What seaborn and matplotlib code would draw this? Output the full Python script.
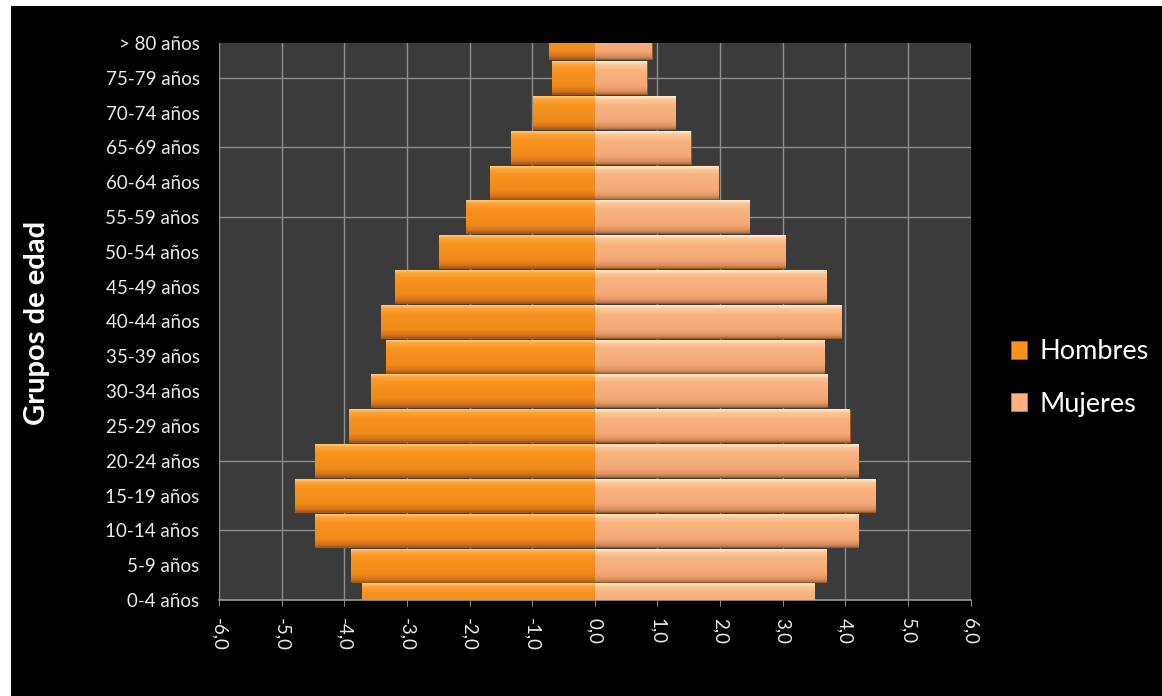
import numpy as np
import pandas as pd
import matplotlib
matplotlib.use("Agg")
import matplotlib.pyplot as plt
import seaborn as sns
from matplotlib.patches import Patch, Rectangle
from matplotlib.colors import LinearSegmentedColormap

# ---- data (top to bottom, as in the chart) ----
grupos = ["> 80 años", "75-79 años", "70-74 años", "65-69 años", "60-64 años",
          "55-59 años", "50-54 años", "45-49 años", "40-44 años", "35-39 años",
          "30-34 años", "25-29 años", "20-24 años", "15-19 años", "10-14 años",
          "5-9 años", "0-4 años"]
hombres = [0.73, 0.68, 0.99, 1.33, 1.68, 2.05, 2.49, 3.19, 3.41, 3.33,
           3.58, 3.93, 4.47, 4.78, 4.46, 3.89, 3.72]
mujeres = [0.91, 0.83, 1.28, 1.53, 1.97, 2.47, 3.04, 3.69, 3.94, 3.66,
           3.71, 4.07, 4.21, 4.48, 4.21, 3.70, 3.50]
series = ["Hombres", "Mujeres"]
x_ticks = [-6, -5, -4, -3, -2, -1, 0, 1, 2, 3, 4, 5, 6]
grid_groups = ["75-79 años", "65-69 años", "55-59 años",
               "20-24 años", "10-14 años", "0-4 años"]

col_h = "#F7921E"
col_m = "#F9B37E"
grid_col = "#8E8E8E"

df = pd.DataFrame({
    "grupo": grupos * 2,
    "sexo": [series[0]] * len(grupos) + [series[1]] * len(grupos),
    "valor": [-v for v in hombres] + list(mujeres),
})

sns.set_style("dark")
plt.rcParams["font.family"] = ["Lato", "DejaVu Sans"]

fig = plt.figure(figsize=(11.62, 6.96), dpi=100, facecolor="white")
fig.add_artist(Rectangle((11 / 1162, 0), 1, 1 - 6 / 696, transform=fig.transFigure,
                         facecolor="black", edgecolor="none", zorder=-10))
ax = fig.add_axes([219 / 1162, 1 - 600 / 696, (970.5 - 219) / 1162, (600 - 43) / 696])
ax.set_facecolor("#3B3B3B")

sns.barplot(data=df, x="valor", y="grupo", hue="sexo", order=grupos,
            hue_order=series, palette={series[0]: col_h, series[1]: col_m},
            dodge=False, width=0.94, orient="h", legend=False, ax=ax,
            saturation=1, linewidth=0.8, edgecolor="#9A5A20", zorder=3)

n = len(grupos)
ax.set_xlim(-6, 6)
ax.set_ylim(n - 1, 0)
xl, yl = ax.get_xlim(), ax.get_ylim()

# glossy gradient over each bar (clipped to the plot area)
cm_h = LinearSegmentedColormap.from_list("h", [(0, "#FFC870"), (0.10, "#FCA23A"),
                                                (0.28, "#F8931F"), (0.75, "#F08A1C"),
                                                (0.92, "#D5741A"), (1, "#A9591A")])
cm_m = LinearSegmentedColormap.from_list("m", [(0, "#FFEDCF"), (0.10, "#FCC79A"),
                                                (0.28, "#F9B47F"), (0.75, "#F4A877"),
                                                (0.92, "#DC925F"), (1, "#B07048")])
for p in list(ax.patches):
    x0, w = p.get_x(), p.get_width()
    top, h = p.get_y(), p.get_height()
    bot = top + h
    left, right = min(x0, x0 + w), max(x0, x0 + w)
    ctop, cbot = max(top, 0), min(bot, n - 1)
    f0, f1 = (ctop - top) / h, (cbot - top) / h
    grad = np.linspace(f0, f1, 96).reshape(-1, 1)
    cmap = cm_h if w < 0 else cm_m
    ax.imshow(grad, cmap=cmap, vmin=0, vmax=1, aspect="auto", origin="upper",
              extent=(left, right, cbot, ctop), zorder=3.1,
              interpolation="bilinear")

# horizontal gridlines (only at some groups, as in the source)
ax.hlines([grupos.index(g) for g in grid_groups], xl[0], xl[1],
          colors=grid_col, linewidth=1.0, zorder=1)
ax.set_xlim(xl)
ax.set_ylim(yl)

# axes styling
ax.set_xlabel("")
ax.set_ylabel("")
ax.set_xticks(x_ticks)
ax.set_xticklabels([f"{v:.1f}".replace(".", ",") for v in x_ticks],
                   rotation=-90, color="#EAEAEA", fontsize=13.5)
ax.set_yticks(range(n))
ax.set_yticklabels(grupos, color="#EAEAEA", fontsize=13.5)
ax.tick_params(axis="x", which="major", length=4, color="#8A8A8A", pad=9,
               direction="out", bottom=True)
ax.tick_params(axis="y", which="both", length=0, pad=14)
ax.grid(False)
ax.grid(True, axis="x", which="major", color=grid_col, linewidth=1.0, zorder=1)
ax.set_axisbelow(True)
for s in ["top", "right", "left"]:
    ax.spines[s].set_visible(False)
ax.spines["bottom"].set_color("#9A9A9A")
ax.spines["bottom"].set_linewidth(1.2)

fig.text(37 / 1162, 1 - 323 / 696, "Grupos de edad", rotation=90, ha="center",
         va="center", color="white", fontsize=21, fontweight="bold")

handles = [Patch(facecolor=col_h, edgecolor="#B0601A", linewidth=0.6),
           Patch(facecolor=col_m, edgecolor="#C08050", linewidth=0.6)]
fig.legend(handles, series, loc="center left", bbox_to_anchor=(1011 / 1162, 1 - 378 / 696),
           frameon=False, fontsize=19.5, labelcolor="white", handlelength=0.6,
           handleheight=0.6, handletextpad=0.45, labelspacing=1.0, borderpad=0,
           borderaxespad=0)

fig.savefig("out.png", dpi=100, facecolor="white")
